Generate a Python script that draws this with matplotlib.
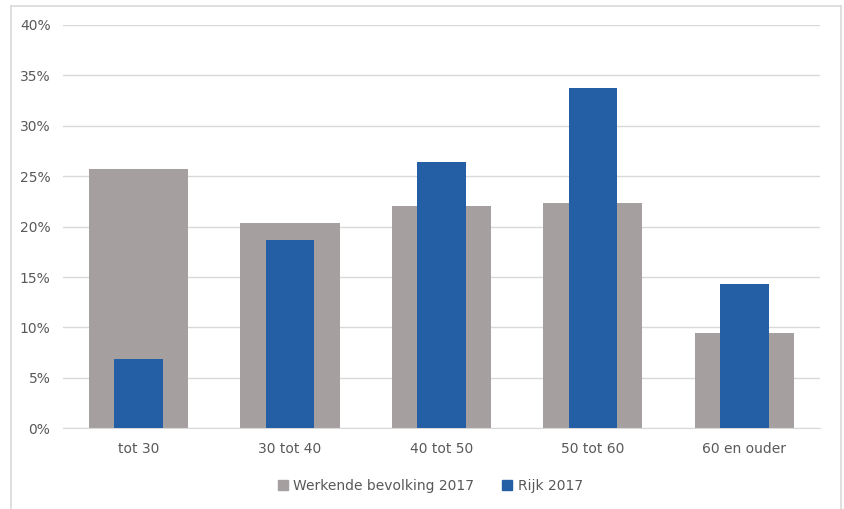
import matplotlib.pyplot as plt
from matplotlib.lines import Line2D
from matplotlib.patches import Patch
from matplotlib.ticker import FuncFormatter

categories = ['tot 30', '30 tot 40', '40 tot 50', '50 tot 60', '60 en ouder']
werkende = [25.7, 20.4, 22.0, 22.3, 9.5]
rijk = [6.9, 18.7, 26.4, 33.7, 14.3]
series_names = ['Werkende bevolking 2017', 'Rijk 2017']

gray = '#A5A09F'
blue = '#245FA6'
text_color = '#595959'

fig = plt.figure(figsize=(8.44, 5.09), dpi=100)
ax = fig.add_axes([0.0746, 0.1585, 0.897, 0.7925])

x = list(range(len(categories)))
ax.bar(x, werkende, width=0.655, color=gray, zorder=2)
ax.bar(x, rijk, width=0.32, color=blue, zorder=3)

ax.set_xlim(-0.5, len(categories) - 0.5)
ax.set_ylim(0, 40)
ax.set_yticks(range(0, 41, 5))
ax.yaxis.set_major_formatter(FuncFormatter(lambda v, p: f'{v:.0f}%'))
ax.set_xticks(x)
ax.set_xticklabels(categories)
ax.grid(axis='y', color='#D9D9D9', linewidth=1, zorder=0)
for s in ['top', 'right', 'left']:
    ax.spines[s].set_visible(False)
ax.spines['bottom'].set_color('#D9D9D9')
ax.tick_params(length=0, colors=text_color, labelsize=10)
ax.tick_params(axis='y', pad=9)
ax.tick_params(axis='x', pad=10)

# outer frame of the chart
frame = dict(color='#D9D9D9', linewidth=1.2, transform=fig.transFigure)
fig.add_artist(Line2D([11/844, 11/844], [0, 1 - 6/509], **frame))
fig.add_artist(Line2D([11/844, 841/844], [1 - 6/509, 1 - 6/509], **frame))
fig.add_artist(Line2D([841/844, 841/844], [0, 1 - 6/509], **frame))

handles = [Patch(color=gray), Patch(color=blue)]
fig.legend(handles, series_names, loc='center', bbox_to_anchor=(0.51, 1 - 486/509),
           ncol=2, frameon=False, fontsize=10, labelcolor=text_color,
           handlelength=0.7, handleheight=0.7, handletextpad=0.4, columnspacing=2.0)

fig.savefig('out.png', dpi=100)
